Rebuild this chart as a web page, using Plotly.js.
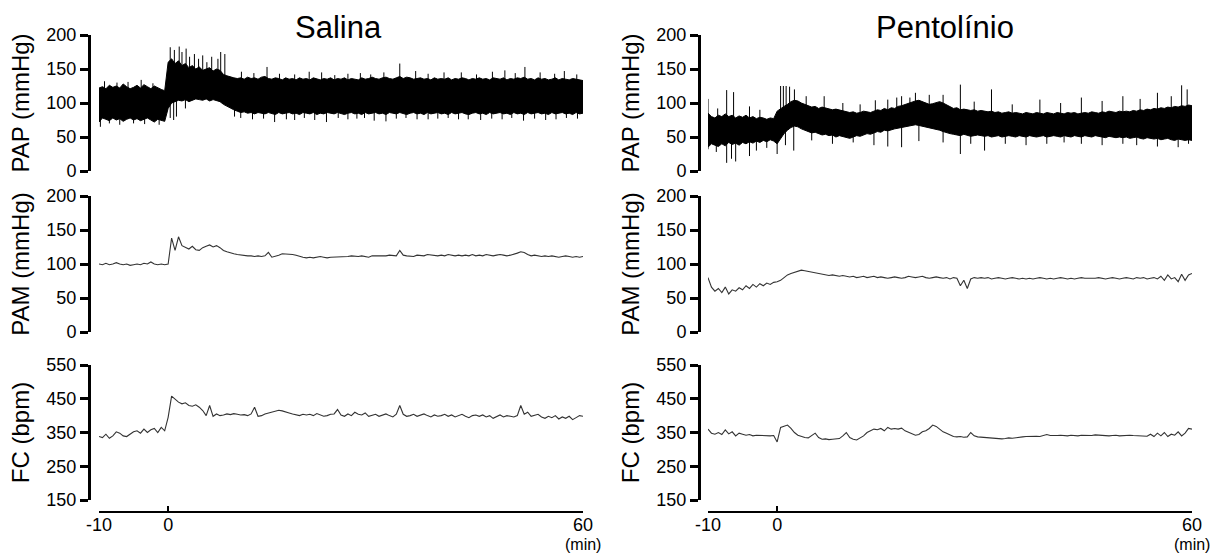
<!DOCTYPE html>
<html>
<head>
<meta charset="utf-8">
<script src="https://cdn.plot.ly/plotly-3.0.1.min.js"></script>
<style>html,body{margin:0;padding:0;background:#fff;}#chart{width:1228px;height:554px;}</style>
</head>
<body>
<div id="chart"></div>
<script>
// ---- Data ----
const groupTitles = ["Salina", "Pentolínio"];
const rowTitles = ["PAP (mmHg)", "PAM (mmHg)", "FC (bpm)"];
const xTickVals = [-10, 0, 60];
const xTickText = ["-10", "0", "60"];
const xUnit = "(min)";
const pressureTicks = [0, 50, 100, 150, 200];
const fcTicks = [150, 250, 350, 450, 550];

const minutes = [
-10,-9.5,-9,-8.5,-8,-7.5,-7,-6.5,-6,-5.5,
-5,-4.5,-4,-3.5,-3,-2.5,-2,-1.5,-1,-0.5,
0,0.5,1,1.5,2,2.5,3,3.5,4,4.5,
5,5.5,6,6.5,7,7.5,8,8.5,9,9.5,
10,10.5,11,11.5,12,12.5,13,13.5,14,14.5,
15,15.5,16,16.5,17,17.5,18,18.5,19,19.5,
20,20.5,21,21.5,22,22.5,23,23.5,24,24.5,
25,25.5,26,26.5,27,27.5,28,28.5,29,29.5,
30,30.5,31,31.5,32,32.5,33,33.5,34,34.5,
35,35.5,36,36.5,37,37.5,38,38.5,39,39.5,
40,40.5,41,41.5,42,42.5,43,43.5,44,44.5,
45,45.5,46,46.5,47,47.5,48,48.5,49,49.5,
50,50.5,51,51.5,52,52.5,53,53.5,54,54.5,
55,55.5,56,56.5,57,57.5,58,58.5,59,59.5,60];

// Salina - PAP envelope (upper / lower of the pulsatile band)
const papSalHigh = [
122,124,121,126,123,125,122,128,124,121, 123,126,122,127,124,121,125,122,120,118,
160,165,158,162,155,158,152,155,150,153, 148,150,152,147,150,148,142,140,138,137,
136,137,135,138,136,137,135,138,139,136, 135,137,136,134,137,135,136,134,137,135,
136,134,137,135,134,136,135,137,134,136, 135,137,134,136,135,134,137,135,136,138,
136,135,137,138,136,135,137,139,136,138, 137,135,136,137,135,136,134,137,135,136,
135,137,134,136,135,137,136,134,136,135, 137,135,136,134,137,136,135,137,134,136,
135,137,136,138,135,136,134,137,135,136, 134,135,137,134,136,135,134,136,135,134,133];
const papSalLow = [
72,78,76,74,78,75,77,73,76,78, 75,77,74,76,78,75,72,76,74,73,
92,100,102,104,103,105,102,104,106,105, 104,106,103,105,104,102,98,95,92,90,
88,86,87,85,86,84,86,85,84,86, 85,83,86,84,85,86,84,85,83,86,
85,84,86,83,85,84,86,85,84,86, 85,83,85,86,84,85,83,86,84,85,
86,84,85,83,86,85,84,86,85,83, 85,86,84,85,83,86,84,85,86,84,
85,83,86,84,85,86,84,83,85,86, 84,85,83,86,84,85,86,84,85,83,
86,84,85,83,86,84,85,86,84,85, 83,86,84,85,86,84,85,83,86,84,85];
const papSalPeakTimes = [-9.2,-7.4,-5.8,-3.9,-2.2,
  0.3,0.9,1.6,2.0,2.6,3.1,3.8,4.4,5.0,5.6,6.3,7.2,7.6,8.2,
  10.6,12.4,14.3,16.1,18.3,20.4,22.2,24.1,26,27.8,29.3,31.2,33.5,35.8,37.6,39.9,42.4,44.6,46.9,48.7,50.2,51.6,53.8,55.9,57.3,59.1];
const papSalPeakValues = [132,130,131,134,129,
  182,178,183,175,180,168,172,165,170,160,168,165,175,172,
  146,144,153,143,142,146,145,141,143,144,142,145,158,147,143,145,145,142,146,148,144,153,145,143,147,142];
const papSalDipTimes = [-9.8,-8.5,-7,-5,-3.4,-1.3,0.3,0.8,1.2,2.5,
  9.6,10.5,12.2,13.8,15.4,17.1,18.3,19.7,21.2,22.9,24.6,26,27.3,28.4,29.8,31.5,33,34.4,36,37.6,39,40.5,42,43.4,45.2,46.8,48.3,49.7,51.4,53,54.6,56.1,57.6,59.2];
const papSalDipValues = [65,70,68,70,69,68,78,75,80,92,
  80,78,76,77,72,76,75,78,75,72,78,76,77,78,74,73,77,78,76,76,77,78,76,76,75,77,76,78,74,77,75,76,78,77];

// Salina - PAM
const pamSal = [
100,99,101,99,100,102,100,99,100,98, 99,100,99,101,100,103,100,99,100,99,
100,138,120,140,127,125,122,126,121,120, 124,126,128,125,127,124,120,118,116,115,
114,113,112,112,112,111,112,111,112,117, 110,111,113,115,115,114,114,113,111,110,
109,110,109,110,111,110,109,110,110,111, 111,110,111,112,111,111,112,111,110,112,
112,111,112,112,113,112,112,120,113,112, 112,111,113,112,112,114,113,112,112,113,
112,114,113,112,113,112,113,112,114,112, 113,112,114,113,112,113,114,113,112,113,
114,116,118,117,114,112,113,112,111,112, 111,112,111,110,111,112,111,110,111,110,111];

// Salina - FC
const fcSal = [
338,335,345,333,340,352,348,340,338,345, 352,355,348,360,350,358,362,350,365,355,
395,458,450,440,435,438,430,428,432,425, 415,400,430,398,405,400,402,405,403,406,
404,402,403,400,405,425,398,400,405,408, 410,415,416,414,410,408,405,402,400,404,
402,404,400,406,402,398,400,404,405,418, 402,398,405,400,410,404,402,408,398,402,
404,398,402,405,400,396,404,430,404,398, 400,404,398,402,405,400,396,402,398,400,
404,398,402,396,400,404,398,394,400,402, 398,402,396,400,392,398,402,396,400,398,
396,400,430,404,410,398,402,404,396,392, 398,394,400,390,396,392,398,388,394,400,398];

// Pentolínio - PAP envelope
const papPenHigh = [
85,80,78,82,80,84,80,82,78,81, 79,82,78,80,77,79,78,76,78,77,
88,92,95,98,102,104,103,100,98,96, 94,95,92,94,93,92,90,91,90,88,
88,86,87,85,86,88,87,86,88,90, 89,92,90,93,92,95,96,98,100,102,
103,104,102,100,98,99,101,102,100,97, 95,92,93,90,91,90,89,90,88,89,
88,87,88,86,87,85,86,87,85,86, 85,84,86,85,84,86,85,84,86,85,
84,86,85,84,86,85,86,84,85,86, 85,87,86,85,87,86,88,87,86,88,
87,88,87,89,88,90,89,91,90,92, 91,93,92,94,93,95,94,96,95,97,96];
const papPenLow = [
35,40,38,36,40,37,42,39,41,38, 42,40,43,41,44,42,45,43,46,44,
40,48,55,60,64,66,65,62,60,58, 56,57,55,53,54,52,53,50,52,51,
50,48,50,52,51,53,55,54,56,58, 57,60,59,61,62,63,64,65,66,67,
68,67,66,65,64,63,62,60,58,56, 55,54,53,52,54,53,51,52,53,52,
51,52,50,51,52,50,51,52,51,50, 52,51,50,52,51,50,51,52,50,51,
52,51,50,52,51,50,52,51,50,52, 51,50,52,51,50,49,51,50,49,50,
49,50,48,49,50,48,47,49,48,47, 48,46,47,48,46,45,47,46,45,46,45];
const papPenPeakTimes = [-10,-8.6,-7.3,-6.3,-4,-2.5,0.5,0.9,1.3,1.8,2.5,4.2,6.8,9.5,12,14.2,16,17.3,18,19.2,20,22,24,26.5,28.5,31,34,38,41,44,47,50,52.5,55,57,58.5,59.3];
const papPenPeakValues = [106,92,119,116,95,90,125,125,125,124,120,110,110,100,98,104,105,108,110,108,115,112,112,127,102,120,98,105,100,108,103,110,106,115,110,126,120];
const papPenDipTimes = [-10,-8.8,-7.3,-6.6,-6,-4,-3,-1.5,0,1.2,2.4,5,8,11,14,16,18,20.5,24,26.5,28,30,33,36,39,41.5,44,47,50,52,55,58,59.5];
const papPenDipValues = [32,28,12,18,14,22,30,34,25,38,30,45,40,42,38,36,35,44,42,25,40,30,40,38,40,42,40,38,40,38,36,35,40];

// Pentolínio - PAM
const pamPen = [
80,66,60,64,58,66,56,62,60,65, 62,68,64,70,66,71,68,72,70,73,
74,76,80,84,86,88,90,91,90,89, 88,87,86,85,84,83,84,83,82,83,
82,81,82,80,81,82,80,81,82,80, 81,80,79,80,81,80,79,80,82,81,
80,81,82,80,79,80,81,80,79,80, 78,80,79,68,76,64,78,80,79,80,
79,80,78,79,80,79,78,79,80,79, 78,79,78,79,78,79,80,79,78,79,
78,79,80,79,78,79,78,79,80,79, 79,78,79,80,79,78,79,80,79,78,
79,80,79,78,80,79,80,78,79,80, 78,82,76,84,78,80,74,85,76,84,86];

// Pentolínio - FC
const fcPen = [
360,348,345,350,344,358,346,352,340,348, 345,342,344,340,342,341,340,341,340,341,
322,365,368,372,362,350,342,338,335,334, 340,348,335,330,331,329,330,331,332,340,
350,335,330,328,333,340,350,355,360,358, 362,355,365,360,362,360,363,355,350,345,
342,344,352,355,362,372,368,360,352,348, 342,338,337,338,336,337,350,340,337,336,
335,334,332,331,330,331,332,334,333,335, 336,337,338,339,340,339,338,340,344,341,
340,341,342,341,340,342,341,340,342,341, 342,341,343,342,341,342,340,341,342,340,
341,340,342,341,340,341,340,339,345,338, 348,340,350,338,345,342,352,340,348,362,360];

// ---- Build traces ----
const FONT = "Liberation Sans, Arial, Helvetica, sans-serif";

function nearestIndex(t) {
  let best = 0;
  for (let i = 1; i < minutes.length; i++) {
    if (Math.abs(minutes[i] - t) < Math.abs(minutes[best] - t)) best = i;
  }
  return best;
}
function spikeSegments(times, values, high, low) {
  const xs = [], ys = [];
  for (let k = 0; k < times.length; k++) {
    const i = nearestIndex(times[k]);
    xs.push(times[k], times[k], null);
    ys.push((high[i] + low[i]) / 2, values[k], null);
  }
  return {xs, ys};
}
function papTraces(high, low, pkT, pkV, dpT, dpV, xa, ya) {
  const up = spikeSegments(pkT, pkV, high, low);
  const dn = spikeSegments(dpT, dpV, high, low);
  return [
    {x: minutes, y: low, type: "scatter", mode: "lines", line: {color: "#000", width: 1}, xaxis: xa, yaxis: ya, hoverinfo: "skip"},
    {x: minutes, y: high, type: "scatter", mode: "lines", fill: "tonexty", fillcolor: "#000", line: {color: "#000", width: 1}, xaxis: xa, yaxis: ya, hoverinfo: "skip"},
    {x: up.xs, y: up.ys, type: "scatter", mode: "lines", line: {color: "#000", width: 1}, xaxis: xa, yaxis: ya, connectgaps: false, hoverinfo: "skip"},
    {x: dn.xs, y: dn.ys, type: "scatter", mode: "lines", line: {color: "#000", width: 1}, xaxis: xa, yaxis: ya, connectgaps: false, hoverinfo: "skip"}
  ];
}
function lineTrace(values, xa, ya) {
  return {x: minutes, y: values, type: "scatter", mode: "lines", line: {color: "#333", width: 1.1}, xaxis: xa, yaxis: ya, hoverinfo: "skip"};
}

const data = [].concat(
  papTraces(papSalHigh, papSalLow, papSalPeakTimes, papSalPeakValues, papSalDipTimes, papSalDipValues, "x", "y"),
  [lineTrace(pamSal, "x2", "y2"), lineTrace(fcSal, "x3", "y3")],
  papTraces(papPenHigh, papPenLow, papPenPeakTimes, papPenPeakValues, papPenDipTimes, papPenDipValues, "x4", "y4"),
  [lineTrace(pamPen, "x5", "y5"), lineTrace(fcPen, "x6", "y6")]
);

// ---- Layout ----
const W = 1228, H = 554;
const colX = [[99, 583], [708, 1192]];   // pixel extents of x=-10..60
const yAxisPx = [89, 699];                // pixel x of y-axis lines
const rowY = [[35, 171], [196, 332], [365, 500]]; // pixel top/bottom of y ranges
const xAxisPx = 512;

function yDom(r) { return [1 - rowY[r][1] / H, 1 - rowY[r][0] / H]; }
function xDom(c) { return [colX[c][0] / W, colX[c][1] / W]; }

const layout = {
  width: W, height: H,
  margin: {l: 0, r: 0, t: 0, b: 0},
  paper_bgcolor: "#fff", plot_bgcolor: "rgba(0,0,0,0)",
  showlegend: false,
  font: {family: FONT, color: "#000"},
  annotations: [
    {text: groupTitles[0], xref: "paper", yref: "paper", x: 338 / W, y: 1 - 27 / H, xanchor: "center", yanchor: "middle", showarrow: false, font: {size: 31, family: FONT, color: "#000"}},
    {text: groupTitles[1], xref: "paper", yref: "paper", x: 945 / W, y: 1 - 27 / H, xanchor: "center", yanchor: "middle", showarrow: false, font: {size: 31, family: FONT, color: "#000"}},
    {text: xUnit, xref: "x3", yref: "paper", x: 60, y: 1 - 544 / H, xanchor: "center", yanchor: "middle", showarrow: false, borderpad: 0, font: {size: 16, family: FONT, color: "#000"}},
    {text: xUnit, xref: "x6", yref: "paper", x: 60, y: 1 - 544 / H, xanchor: "center", yanchor: "middle", showarrow: false, borderpad: 0, font: {size: 16, family: FONT, color: "#000"}}
  ]
};

const axisNames = [["", "2", "3"], ["4", "5", "6"]];
for (let c = 0; c < 2; c++) {
  for (let r = 0; r < 3; r++) {
    const n = axisNames[c][r];
    const isFC = r === 2;
    layout["xaxis" + n] = {
      domain: xDom(c), range: [-10, 60], anchor: "free", position: 1 - xAxisPx / H,
      visible: isFC, showgrid: false, zeroline: false,
      showline: true, linecolor: "#000", linewidth: 2,
      tickmode: "array", tickvals: xTickVals, ticktext: xTickText,
      ticks: "inside", ticklen: 5, tickwidth: 2, tickcolor: "#000",
      ticklabelstandoff: -4,
      tickfont: {size: 18, family: FONT, color: "#000"}
    };
    layout["yaxis" + n] = {
      domain: yDom(r), range: isFC ? [150, 550] : [0, 200],
      anchor: "free", position: yAxisPx[c] / W,
      showgrid: false, zeroline: false,
      showline: true, linecolor: "#000", linewidth: 3,
      tickmode: "array", tickvals: isFC ? fcTicks : pressureTicks,
      ticks: "outside", ticklen: 8, tickwidth: 3, tickcolor: "#000",
      tickfont: {size: 18, family: FONT, color: "#000"},
      title: {text: rowTitles[r], font: {size: 24, family: FONT, color: "#000"}, standoff: 8}
    };
  }
}

Plotly.newPlot("chart", data, layout, {staticPlot: true, displayModeBar: false});
</script>
</body>
</html>
